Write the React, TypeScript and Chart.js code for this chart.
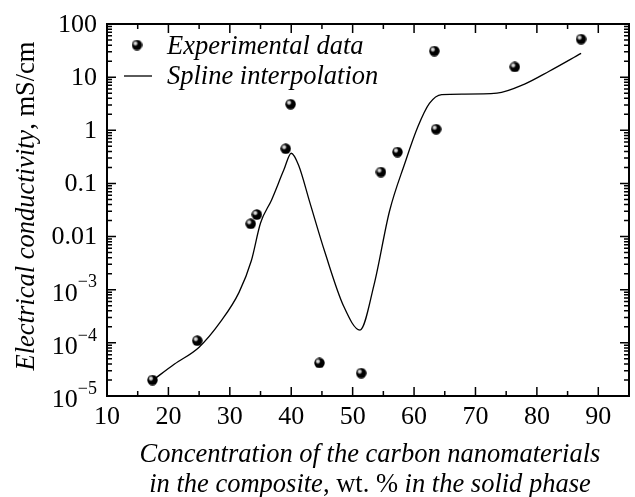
import React, { useEffect, useRef } from "react";
import { Chart, registerables } from "chart.js";

Chart.register(...registerables);

// Experimental data (wt.% , mS/cm)
const expX = [17.4, 24.7, 33.4, 34.4, 39.1, 39.9, 44.6, 51.4, 54.6, 57.3, 63.6, 63.3, 76.4, 87.2];
const expY = [2.0e-5, 1.1e-4, 0.0174, 0.026, 0.45, 3.1, 4.2e-5, 2.7e-5, 0.164, 0.39, 1.05, 31, 15.6, 52];

// Spline interpolation curve
const curveX = [17.5, 21, 25, 28.5, 31.5, 33.5, 35, 36.8, 38.8, 40, 41.2, 43, 45.5, 48.5, 51.2, 53.5, 56, 58.5, 60.6, 62.5, 64.5, 68, 73.5, 78, 82, 87.2];
const curveY = [2.0e-5, 4.0e-5, 8.3e-5, 2.5e-4, 8.9e-4, 3.5e-3, 0.018, 0.049, 0.18, 0.37, 0.22, 0.045, 5e-3, 5e-4, 1.74e-4, 1.26e-3, 0.03, 0.24, 1.15, 3.2, 4.7, 4.8, 5.0, 7.4, 12.9, 28];

// Axis ticks
const xTickValues = [10, 20, 30, 40, 50, 60, 70, 80, 90];
const xMinorTicks = [15, 25, 35, 45, 55, 65, 75, 85];
const yTickValues = [100, 10, 1, 0.1, 0.01, 1e-3, 1e-4, 1e-5];
const yTickBase = ["100", "10", "1", "0.1", "0.01", "10", "10", "10"];
const yTickExp = ["", "", "", "", "", "\u22123", "\u22124", "\u22125"];

const legendLabels = ["Experimental data", "Spline interpolation"];
const FONT = `"Liberation Serif", "Times New Roman", Times, serif`;

function makeSphere(): HTMLCanvasElement {
  const c = document.createElement("canvas");
  const s = 11;
  c.width = s;
  c.height = s;
  const g = c.getContext("2d")!;
  g.beginPath();
  g.arc(s / 2, s / 2, s / 2 - 0.3, 0, Math.PI * 2);
  g.fillStyle = "#000";
  g.fill();
  const grad = g.createRadialGradient(s / 2 - 1.6, s / 2 - 1.6, 0.2, s / 2 - 1.6, s / 2 - 1.6, 3.2);
  grad.addColorStop(0, "rgba(255,255,255,1)");
  grad.addColorStop(0.5, "rgba(220,220,220,0.7)");
  grad.addColorStop(1, "rgba(0,0,0,0)");
  g.beginPath();
  g.arc(s / 2, s / 2, s / 2 - 0.3, 0, Math.PI * 2);
  g.fillStyle = grad;
  g.fill();
  return c;
}

function drawMixed(ctx: CanvasRenderingContext2D, parts: [string, boolean][], cx: number, y: number, size: number) {
  let total = 0;
  const widths: number[] = [];
  for (const [t, it] of parts) {
    ctx.font = `${it ? "italic " : ""}${size}px ${FONT}`;
    const w = ctx.measureText(t).width;
    widths.push(w);
    total += w;
  }
  let x = cx - total / 2;
  ctx.textAlign = "left";
  parts.forEach(([t, it], i) => {
    ctx.font = `${it ? "italic " : ""}${size}px ${FONT}`;
    ctx.fillText(t, x, y);
    x += widths[i];
  });
}

const decorPlugin = {
  id: "decor",
  afterDraw(chart: any) {
    const { ctx, chartArea: a, scales } = chart;
    const xs = scales.x;
    const ys = scales.y;
    ctx.save();
    ctx.strokeStyle = "#000";
    ctx.fillStyle = "#000";
    ctx.lineWidth = 2;
    ctx.strokeRect(a.left, a.top, a.right - a.left, a.bottom - a.top);

    ctx.lineWidth = 1.5;
    const vTick = (px: number, len: number) => {
      ctx.beginPath();
      ctx.moveTo(px, a.bottom);
      ctx.lineTo(px, a.bottom - len);
      ctx.moveTo(px, a.top);
      ctx.lineTo(px, a.top + len);
      ctx.stroke();
    };
    const hTick = (py: number, len: number) => {
      ctx.beginPath();
      ctx.moveTo(a.left, py);
      ctx.lineTo(a.left + len, py);
      ctx.moveTo(a.right, py);
      ctx.lineTo(a.right - len, py);
      ctx.stroke();
    };
    xTickValues.forEach((v) => vTick(xs.getPixelForValue(v), 9));
    xMinorTicks.forEach((v) => vTick(xs.getPixelForValue(v), 5));
    yTickValues.forEach((v) => {
      hTick(ys.getPixelForValue(v), 9);
      if (v < 100) {
        for (let k = 2; k <= 9; k++) hTick(ys.getPixelForValue(v * k), 5);
      }
    });

    // x tick labels
    ctx.font = `26px ${FONT}`;
    ctx.textAlign = "center";
    ctx.textBaseline = "middle";
    xTickValues.forEach((v) => {
      ctx.fillText(String(v), xs.getPixelForValue(v), a.bottom + 21);
    });

    // y tick labels
    const rightX = a.left - 10;
    yTickValues.forEach((v, i) => {
      const py = ys.getPixelForValue(v);
      const exp = yTickExp[i];
      ctx.textBaseline = "middle";
      ctx.textAlign = "right";
      if (!exp) {
        ctx.font = `26px ${FONT}`;
        ctx.fillText(yTickBase[i], rightX, py + 1);
      } else {
        ctx.font = `18px ${FONT}`;
        const ew = ctx.measureText(exp).width;
        ctx.textAlign = "left";
        ctx.fillText(exp, rightX - ew, py - 7);
        ctx.font = `26px ${FONT}`;
        ctx.textAlign = "right";
        ctx.fillText(yTickBase[i], rightX - ew, py + 4);
      }
    });

    // legend
    const sphere = chart.data.datasets[1].pointStyle;
    ctx.drawImage(sphere, 137 - 5.5, 45 - 5.5);
    ctx.lineWidth = 1.3;
    ctx.beginPath();
    ctx.moveTo(124, 76);
    ctx.lineTo(152, 76);
    ctx.stroke();
    ctx.font = `italic 26.5px ${FONT}`;
    ctx.textAlign = "left";
    ctx.textBaseline = "alphabetic";
    ctx.fillText(legendLabels[0], 167, 54);
    ctx.fillText(legendLabels[1], 167, 84);

    // x title
    const cx = (a.left + a.right) / 2 + 2;
    ctx.textBaseline = "alphabetic";
    drawMixed(ctx, [["Concentration of the carbon nanomaterials", true]], cx, 462, 26.5);
    drawMixed(ctx, [["in the composite", true], [", wt. % ", false], ["in the solid phase", true]], cx, 492, 26.5);

    // y title
    ctx.save();
    ctx.translate(34, 206);
    ctx.rotate(-Math.PI / 2);
    drawMixed(ctx, [["Electrical conductivity", true], [", mS/cm", false]], 0, 0, 26.5);
    ctx.restore();

    ctx.restore();
  },
};

export default function App() {
  const ref = useRef<HTMLCanvasElement>(null);
  useEffect(() => {
    const sphere = makeSphere();
    const chart = new Chart(ref.current!, {
      type: "scatter",
      data: {
        datasets: [
          {
            type: "line",
            data: curveX.map((x, i) => ({ x, y: curveY[i] })),
            borderColor: "#000",
            borderWidth: 1.3,
            pointRadius: 0,
            cubicInterpolationMode: "monotone",
            fill: false,
            order: 2,
          } as any,
          {
            type: "scatter",
            data: expX.map((x, i) => ({ x, y: expY[i] })),
            pointStyle: sphere,
            pointRadius: 5,
            order: 1,
          } as any,
        ],
      },
      options: {
        responsive: false,
        animation: false,
        layout: { padding: { left: 107, right: 2, top: 24, bottom: 101 } },
        plugins: { legend: { display: false }, tooltip: { enabled: false } },
        scales: {
          x: { type: "linear", min: 10, max: 95, display: false },
          y: { type: "logarithmic", min: 1e-5, max: 100, display: false },
        },
      },
      plugins: [decorPlugin],
    });
    let alive = true;
    const redraw = () => {
      if (alive) chart.update();
    };
    const fontsApi = (document as any).fonts;
    if (fontsApi) {
      Promise.all([fontsApi.load(`26px ${FONT}`), fontsApi.load(`italic 26px ${FONT}`)])
        .then(redraw)
        .catch(() => {});
    }
    const t1 = setTimeout(redraw, 150);
    return () => {
      alive = false;
      clearTimeout(t1);
      chart.destroy();
    };
  }, []);
  return (
    <div style={{ position: "absolute", left: 0, top: 0, width: 635, height: 497, background: "#fff" }}>
      <canvas ref={ref} width={635} height={497} style={{ display: "block" }} />
    </div>
  );
}
